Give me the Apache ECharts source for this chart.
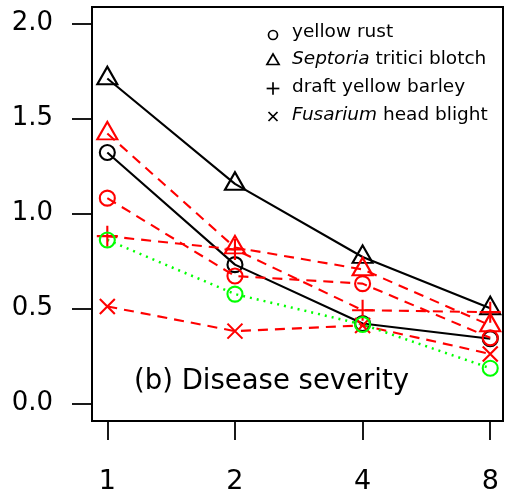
<!DOCTYPE html>
<html>
<head>
<meta charset="utf-8">
<script src="https://cdn.jsdelivr.net/npm/echarts@6/dist/echarts.min.js"></script>
<style>
  html, body { margin: 0; padding: 0; background: #fff; }
  #chart { width: 505px; height: 491px; }
</style>
</head>
<body>
<div id="chart"></div>
<script>
// x categories (plotted at index positions)
const doses = ['1', '2', '4', '8'];
const yTicks = [0, 0.5, 1, 1.5, 2];

// black solid lines
const stbBlack = [1.71, 1.155, 0.77, 0.50];
const yrBlack = [1.32, 0.73, 0.42, 0.34];
// red dashed lines
const stbRed = [1.42, 0.82, 0.705, 0.41];
const yrRed = [1.08, 0.67, 0.63, 0.345];
const dybRed = [0.88, 0.81, 0.49, 0.48];
const fhbRed = [0.51, 0.38, 0.41, 0.26];
// green dotted line
const yrGreen = [0.86, 0.575, 0.415, 0.185];

const FONT = 'DejaVu Sans';
const plusPath = 'path://M0,10L20,10M10,0L10,20';
const crossPath = 'path://M0,0L20,20M20,0L0,20';

function pts(arr) {
    return arr.map((v, i) => [i, v]);
}

// one line series, hollow markers like R's pch
function mk(name, data, color, lineType, shape) {
    let symbol = 'circle', size = 15, offset = [0, 0];
    if (shape === 'tri') { symbol = 'triangle'; size = [20, 17.5]; offset = [0, -2.9]; }
    if (shape === 'plus') { symbol = plusPath; size = 21; }
    if (shape === 'x') { symbol = crossPath; size = 15; }
    return {
        name: name,
        type: 'line',
        data: pts(data),
        symbol: symbol,
        symbolSize: size,
        symbolOffset: offset,
        showSymbol: true,
        lineStyle: {color: color, width: lineType === 'dotted' ? 2.5 : 2.1,
            type: lineType === 'dashed' ? [10, 7] : lineType === 'dotted' ? [2, 5] : 'solid'},
        itemStyle: {color: 'rgba(0,0,0,0)', borderColor: color, borderWidth: 2.1},
        emphasis: {disabled: true},
        silent: true
    };
}

const chart = echarts.init(document.getElementById('chart'));

// legend drawn by hand (black symbols, italic genus names)
const legRows = [
    {y: 32, sy: 35, shape: 'circle', text: 'yellow rust'},
    {y: 59.5, sy: 61, shape: 'tri', text: '{i|Septoria} tritici blotch'},
    {y: 87.5, sy: 88.5, shape: 'plus', text: 'draft yellow barley'},
    {y: 115, sy: 116.5, shape: 'x', text: '{i|Fusarium} head blight'}
];
const lx = 273, r = 4.5;
const legend = [];
legRows.forEach(row => {
    const cy = row.sy;
    const st = {fill: 'none', stroke: '#000', lineWidth: 1.7};
    if (row.shape === 'circle') {
        legend.push({type: 'circle', shape: {cx: lx, cy: cy, r: r}, style: st});
    } else if (row.shape === 'tri') {
        const a = 1.555 * r, hw = 1.347 * r;
        legend.push({type: 'polygon', shape: {points: [[lx, cy - a], [lx + hw, cy + a / 2], [lx - hw, cy + a / 2]]}, style: st});
    } else if (row.shape === 'plus') {
        const a = 1.414 * r;
        legend.push({type: 'polyline', shape: {points: [[lx - a, cy], [lx + a, cy]]}, style: st});
        legend.push({type: 'polyline', shape: {points: [[lx, cy - a], [lx, cy + a]]}, style: st});
    } else {
        legend.push({type: 'polyline', shape: {points: [[lx - r, cy - r], [lx + r, cy + r]]}, style: st});
        legend.push({type: 'polyline', shape: {points: [[lx - r, cy + r], [lx + r, cy - r]]}, style: st});
    }
    legend.push({
        type: 'text', x: 292, y: row.y,
        style: {
            text: row.text, fill: '#000', fontSize: 18.5, fontFamily: FONT,
            verticalAlign: 'middle', align: 'left',
            rich: {i: {fontStyle: 'italic', fontSize: 18.5, fontFamily: FONT}}
        }
    });
});
legend.push({
    type: 'text', x: 134, y: 382,
    style: {text: '(b) Disease severity', fill: '#000', fontSize: 27.5, fontFamily: FONT,
        verticalAlign: 'middle', align: 'left'}
});

const option = {
    animation: false,
    grid: {left: 92, right: 2, top: 7, bottom: 70, show: true, borderColor: '#000', borderWidth: 2,
        outerBoundsMode: 'none'},
    xAxis: {
        type: 'value', min: -0.12, max: 3.10,
        axisLine: {show: false, onZero: false},
        splitLine: {show: false},
        axisTick: {customValues: [0, 1, 2, 3], inside: false, length: 19, lineStyle: {color: '#000', width: 1.8}},
        axisLabel: {customValues: [0, 1, 2, 3], formatter: v => doses[v], margin: 47,
            color: '#000', fontSize: 27, fontFamily: FONT}
    },
    yAxis: {
        type: 'value', min: -0.093, max: 2.086,
        axisLine: {show: false, onZero: false},
        splitLine: {show: false},
        axisTick: {customValues: yTicks, inside: false, length: 20, lineStyle: {color: '#000', width: 1.8}},
        axisLabel: {customValues: yTicks, formatter: v => v.toFixed(1), margin: 39,
            color: '#000', fontSize: 26, fontFamily: FONT}
    },
    graphic: legend,
    series: [
        mk('stb black', stbBlack, '#000', 'solid', 'tri'),
        mk('yr black', yrBlack, '#000', 'solid', 'circle'),
        mk('stb red', stbRed, '#ff0000', 'dashed', 'tri'),
        mk('yr red', yrRed, '#ff0000', 'dashed', 'circle'),
        mk('dyb red', dybRed, '#ff0000', 'dashed', 'plus'),
        mk('fhb red', fhbRed, '#ff0000', 'dashed', 'x'),
        mk('yr green', yrGreen, '#00ff00', 'dotted', 'circle')
    ]
};
chart.setOption(option);
</script>
</body>
</html>
